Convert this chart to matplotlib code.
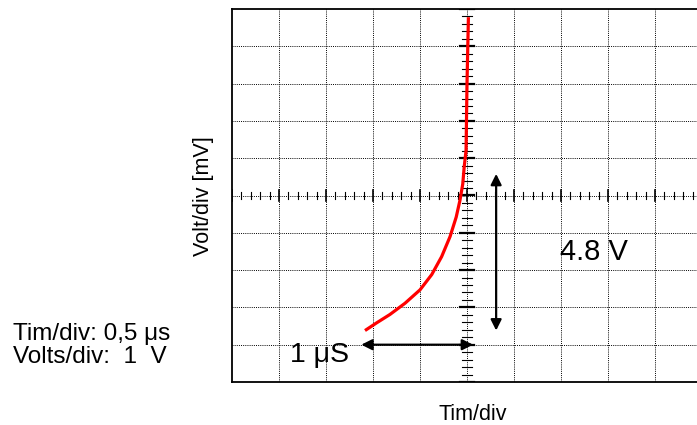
import matplotlib
matplotlib.use('Agg')
import matplotlib.pyplot as plt
import numpy as np

plt.rcParams['font.family'] = ['Liberation Sans', 'DejaVu Sans']

# red trace, in divisions (x: time div, y: volt div)
traceX = [-2.17, -1.93, -1.64, -1.32, -1.00, -0.75, -0.54, -0.36, -0.23, -0.15,
          -0.09, -0.06, -0.02, 0.00, 0.03]
traceY = [-3.62, -3.42, -3.19, -2.89, -2.53, -2.12, -1.64, -1.10, -0.58, -0.13,
          0.31, 0.76, 1.21, 2.99, 4.78]

# measuring arrows: (start, end)
timeArrowX = [-2.25, 0.13]
timeArrowY = -4.0
voltArrowX = 0.62
voltArrowY = [0.58, -3.62]

timeLabel = '1 \u03bcS'
voltLabel = '4.8 V'
settings = ['Tim/div: 0,5 \u03bcs', 'Volts/div:  1  V']

fig = plt.figure(figsize=(6.97, 4.25), dpi=100)
ax = fig.add_axes([232/697, 1 - 382/425, (702 - 232)/697, (382 - 9)/425])
ax.set_xlim(-5, 5)
ax.set_ylim(-5, 5)

# scope graticule
for v in range(-4, 5):
    ax.axvline(v, color='black', lw=0.7, ls=(0, (1, 1.2)), zorder=1)
    ax.axhline(v, color='black', lw=0.7, ls=(0, (1, 1.2)), zorder=1)

minor = np.arange(-5, 5.01, 0.2)
for t in minor:
    major = abs(t - round(t)) < 1e-6
    h = 0.16 if major else 0.09
    w = 0.15 if major else 0.1
    ax.plot([t, t], [-h, h], color='black', lw=1.2 if major else 0.8, zorder=2)
    ax.plot([-w, w], [t, t], color='black', lw=1.6 if major else 0.8, zorder=2)

ax.set_xticks([])
ax.set_yticks([])
for s in ax.spines.values():
    s.set_linewidth(1.3)
ax.spines['right'].set_visible(False)

ax.plot(traceX, traceY, color='red', lw=2.3, zorder=3, solid_capstyle='butt')

ax.annotate('', xy=(timeArrowX[0], timeArrowY), xytext=(timeArrowX[1], timeArrowY),
            arrowprops=dict(arrowstyle='<|-|>', color='black', lw=1.6, mutation_scale=16,
                            shrinkA=0, shrinkB=0))
ax.annotate('', xy=(voltArrowX, voltArrowY[0]), xytext=(voltArrowX, voltArrowY[1]),
            arrowprops=dict(arrowstyle='<|-|>', color='black', lw=1.6, mutation_scale=16,
                            shrinkA=0, shrinkB=0))
ax.text(-3.77, -4.47, timeLabel, fontsize=20.5, ha='left', va='baseline', zorder=4)
ax.text(1.98, -1.72, voltLabel, fontsize=21, ha='left', va='baseline', zorder=4)

fig.text(203/697, 1 - 196/425, 'Volt/div [mV]', rotation=90, fontsize=15.5,
         ha='center', va='center')
fig.text(473/697, 1 - 404/425, 'Tim/div', fontsize=15.5, ha='center', va='top')
fig.text(13/697, 1 - 340/425, settings[0], fontsize=17.5, ha='left', va='baseline')
fig.text(13/697, 1 - 363/425, settings[1], fontsize=17.5, ha='left', va='baseline')

fig.savefig('out.png', dpi=100)
